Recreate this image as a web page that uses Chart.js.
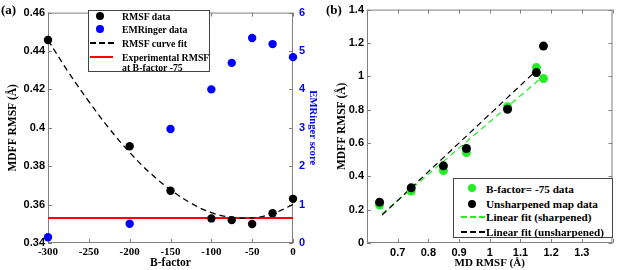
<!DOCTYPE html>
<html><head><meta charset="utf-8">
<script src="https://cdn.jsdelivr.net/npm/chart.js@4.4.1/dist/chart.umd.min.js"></script>
<style>
body{margin:0;background:#fff;width:617px;height:270px;position:relative;overflow:hidden;font-family:'Liberation Serif',serif;font-weight:bold;color:#000}
canvas{position:absolute;top:0}
.lab{position:absolute;font:bold 13px 'Liberation Serif',serif;line-height:1}
.leg{position:absolute;border:1px solid #444;background:#fff;box-sizing:border-box}
.t{position:absolute;white-space:nowrap;transform:translateY(-50%);line-height:1}
.ta{font:bold 9.8px 'Liberation Serif',serif}
.tb{font:bold 11.2px 'Liberation Serif',serif}
.dot{position:absolute;border-radius:50%;transform:translate(-50%,-50%)}
.ln{position:absolute;height:2px}
.dk{background:repeating-linear-gradient(90deg,#000 0 6px,transparent 6px 9px)}
.dg{background:repeating-linear-gradient(90deg,#22ee22 0 6px,transparent 6px 9px)}
</style></head>
<body>
<canvas id="ca" width="322" height="270" style="left:0"></canvas>
<canvas id="cb" width="295" height="270" style="left:322px"></canvas>
<div class="lab" style="left:1px;top:3px">(a)</div>
<div class="lab" style="left:326px;top:3px">(b)</div>

<div class="leg" style="left:88px;top:10px;width:122px;height:62px"></div>
<div class="dot" style="left:100px;top:16px;width:8px;height:8px;background:#000"></div>
<div class="t ta" style="left:122px;top:16px">RMSF data</div>
<div class="dot" style="left:100px;top:29px;width:8px;height:8px;background:#0000ff"></div>
<div class="t ta" style="left:122px;top:29px">EMRinger data</div>
<div class="ln dk" style="left:90px;top:42px;width:24px"></div>
<div class="t ta" style="left:122px;top:43px">RMSF curve fit</div>
<div class="ln" style="left:90px;top:56px;width:23px;background:#ff0000"></div>
<div class="t ta" style="left:122px;top:57px">Experimental RMSF</div>
<div class="t ta" style="left:122px;top:67px">at B-factor -75</div>

<div class="leg" style="left:453px;top:178px;width:160px;height:60px"></div>
<div class="dot" style="left:472px;top:188px;width:8px;height:8px;background:#22ee22"></div>
<div class="t tb" style="left:486px;top:189px">B-factor= -75 data</div>
<div class="dot" style="left:472px;top:204px;width:8px;height:8px;background:#000"></div>
<div class="t tb" style="left:486px;top:204px">Unsharpened map data</div>
<div class="ln dg" style="left:461px;top:216px;width:24px"></div>
<div class="t tb" style="left:486px;top:217px">Linear fit (sharpened)</div>
<div class="ln dk" style="left:461px;top:231px;width:24px"></div>
<div class="t tb" style="left:486px;top:232px">Linear fit (unsharpened)</div>

<script>
// ---- Panel (a) data ----
const bFactor = [-300, -200, -150, -100, -75, -50, -25, 0];
const rmsfData = [0.4457, 0.3904, 0.3672, 0.3528, 0.3519, 0.3499, 0.3555, 0.3630];
const emringerData = [0.15, 0.5, 2.97, 4.0, 4.69, 5.34, 5.18, 4.84];
const fitB = [-300, -275, -250, -225, -200, -175, -150, -125, -100, -75, -50, -25, 0];
const fitRmsf = [0.4457, 0.4290, 0.4137, 0.3996, 0.3872, 0.3765, 0.3677, 0.3608, 0.3558, 0.3534, 0.3531, 0.3553, 0.3600];
const expB = [-300, 0];
const expRmsf = [0.353, 0.353];

// ---- Panel (b) data ----
const mdRmsf = [0.641, 0.744, 0.849, 0.924, 1.058, 1.152, 1.175];
const sharpRmsf = [0.228, 0.312, 0.435, 0.543, 0.818, 1.052, 0.986];
const unsharpRmsf = [0.245, 0.331, 0.463, 0.567, 0.802, 1.022, 1.181];
const fitMd = [0.649, 1.170];
const sharpFit = [0.175, 0.994];
const unsharpFit = [0.167, 1.066];

const pts = (xs, ys) => xs.map((x, i) => ({x, y: ys[i]}));
const serif = (s) => ({family: "'Liberation Serif', serif", size: s, weight: 'bold'});
const sans = (s) => ({family: "'Liberation Sans', Arial, sans-serif", size: s, weight: 'bold'});
const GREEN = '#22ee22', BLUE = '#0000ff';

const boxPlugin = {
  id: 'box',
  beforeDatasetsDraw(chart) {
    const {ctx, chartArea: {left, right, top, bottom}, scales} = chart;
    ctx.save();
    ctx.strokeStyle = '#808080';
    ctx.lineWidth = 1;
    ctx.strokeRect(left + 0.5, top + 0.5, right - left - 1, bottom - top - 1);
    const L = 4;
    ctx.beginPath();
    scales.x.ticks.forEach(t => {
      const p = Math.round(scales.x.getPixelForValue(t.value)) + 0.5;
      ctx.moveTo(p, bottom); ctx.lineTo(p, bottom - L);
      ctx.moveTo(p, top); ctx.lineTo(p, top + L);
    });
    scales.y.ticks.forEach(t => {
      const p = Math.round(scales.y.getPixelForValue(t.value)) + 0.5;
      ctx.moveTo(left, p); ctx.lineTo(left + L, p);
      if (!scales.y1) { ctx.moveTo(right, p); ctx.lineTo(right - L, p); }
    });
    if (scales.y1) {
      scales.y1.ticks.forEach(t => {
        const p = Math.round(scales.y1.getPixelForValue(t.value)) + 0.5;
        ctx.moveTo(right, p); ctx.lineTo(right - L, p);
      });
    }
    ctx.stroke();
    ctx.restore();
  }
};

const noGrid = {display: false, drawTicks: false};

new Chart(document.getElementById('ca'), {
  type: 'scatter',
  plugins: [boxPlugin],
  data: {
    datasets: [
      {data: pts(bFactor, rmsfData), yAxisID: 'y', backgroundColor: '#000', pointRadius: 4.2, borderWidth: 0, order: 0, clip: false},
      {data: pts(bFactor, emringerData), yAxisID: 'y1', backgroundColor: BLUE, pointRadius: 4.2, borderWidth: 0, order: 1, clip: false},
      {data: pts(fitB, fitRmsf), yAxisID: 'y', showLine: true, pointRadius: 0, borderColor: '#000', borderWidth: 1.3, borderDash: [6, 4], tension: 0.4, order: 2},
      {data: pts(expB, expRmsf), yAxisID: 'y', showLine: true, pointRadius: 0, borderColor: '#ff0000', borderWidth: 2, order: 3}
    ]
  },
  options: {
    responsive: false, animation: false, devicePixelRatio: 1,
    layout: {padding: {top: 5, right: 0, left: 0, bottom: 0}},
    plugins: {legend: {display: false}, tooltip: {enabled: false}},
    scales: {
      x: {type: 'linear', position: 'bottom', min: -300, max: 0,
        ticks: {stepSize: 50, font: serif(11), color: '#000', padding: 3, maxRotation: 0, autoSkip: false},
        grid: noGrid, border: {display: false},
        title: {display: true, text: 'B-factor', font: serif(11.5), color: '#000', padding: {top: 0, bottom: 0}},
        afterFit(s) { s.height = 27; }},
      y: {type: 'linear', position: 'left', min: 0.34, max: 0.46,
        ticks: {stepSize: 0.02, font: sans(11), color: '#000', padding: 3, callback: v => String(Math.round(v * 100) / 100)},
        grid: noGrid, border: {display: false},
        title: {display: true, text: 'MDFF RMSF (Å)', font: serif(11.5), color: '#000', padding: {top: 6, bottom: 0}},
        afterFit(s) { s.width = 48; }},
      y1: {type: 'linear', position: 'right', min: 0, max: 6,
        ticks: {stepSize: 1, font: sans(11), color: BLUE, padding: 6},
        grid: noGrid, border: {display: false},
        title: {display: true, text: 'EMRinger score', font: serif(10.7), color: BLUE, padding: {top: 3, bottom: 0}},
        afterFit(s) { s.width = 29; }}
    }
  }
});

new Chart(document.getElementById('cb'), {
  type: 'scatter',
  plugins: [boxPlugin],
  data: {
    datasets: [
      {data: pts(mdRmsf, unsharpRmsf), backgroundColor: '#000', pointRadius: 4.5, borderWidth: 0, order: 0},
      {data: pts(mdRmsf, sharpRmsf), backgroundColor: GREEN, pointRadius: 4.5, borderWidth: 0, order: 1},
      {data: pts(fitMd, unsharpFit), showLine: true, pointRadius: 0, borderColor: '#000', borderWidth: 1.2, borderDash: [6, 4], order: 2},
      {data: pts(fitMd, sharpFit), showLine: true, pointRadius: 0, borderColor: GREEN, borderWidth: 1.2, borderDash: [6, 4], order: 3}
    ]
  },
  options: {
    responsive: false, animation: false, devicePixelRatio: 1,
    layout: {padding: {top: 5, right: 4, left: 0, bottom: 0}},
    plugins: {legend: {display: false}, tooltip: {enabled: false}},
    scales: {
      x: {type: 'linear', position: 'bottom', min: 0.6, max: 1.4,
        ticks: {stepSize: 0.1, font: sans(11), color: '#000', padding: 3, maxRotation: 0, autoSkip: false,
          callback: v => (Math.abs(v - 0.6) < 1e-6 || Math.abs(v - 1.4) < 1e-6) ? '' : String(Math.round(v * 10) / 10)},
        grid: noGrid, border: {display: false},
        title: {display: true, text: 'MD RMSF (Å)', font: serif(11), color: '#000', padding: {top: 0, bottom: 0}},
        afterFit(s) { s.height = 27; }},
      y: {type: 'linear', position: 'left', min: 0, max: 1.4,
        ticks: {stepSize: 0.2, font: sans(11), color: '#000', padding: 3, callback: v => String(Math.round(v * 10) / 10)},
        grid: noGrid, border: {display: false},
        title: {display: true, text: 'MDFF RMSF (Å)', font: serif(11.5), color: '#000', padding: {top: 13, bottom: 0}},
        afterFit(s) { s.width = 45; }}
    }
  }
});
</script>
</body></html>
